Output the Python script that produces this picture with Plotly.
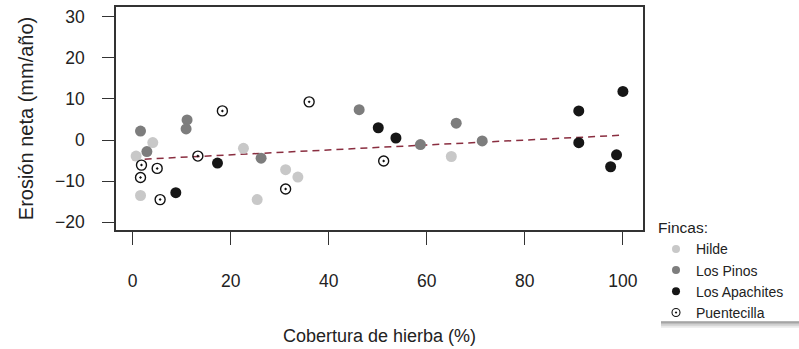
import plotly.graph_objects as go

# Net erosion vs. grass cover, by farm
hilde_x = [0.7, 4.1, 1.6, 22.6, 25.4, 31.2, 33.7, 65.0]
hilde_y = [-3.9, -0.6, -13.5, -2.0, -14.5, -7.2, -9.0, -4.0]

pinos_x = [1.6, 2.9, 11.1, 10.9, 26.2, 46.2, 58.7, 66.0, 71.3]
pinos_y = [2.2, -2.8, 4.9, 2.7, -4.4, 7.4, -1.1, 4.1, -0.2]

apachites_x = [8.8, 17.3, 50.1, 53.7, 91.0, 91.0, 100.0, 98.7, 97.5]
apachites_y = [-12.8, -5.6, 3.0, 0.5, 7.1, -0.65, 11.85, -3.6, -6.5]

puente_x = [1.8, 1.6, 5.0, 5.6, 13.3, 18.3, 31.2, 36.0, 51.2]
puente_y = [-6.1, -9.1, -6.9, -14.5, -3.9, 7.1, -11.9, 9.3, -5.1]

# Fitted linear trend (endpoints)
trend_x = [0, 100]
trend_y = [-4.8, 1.2]

x_ticks = [0, 20, 40, 60, 80, 100]
y_ticks = [-20, -10, 0, 10, 20, 30]

FONT = "Liberation Sans, Arial, sans-serif"
TXT = "#222222"
AX = "#333333"

# plot area in pixels (left, right, top, bottom)
L, R, T, B = 116, 643, 5, 230
W, H = 799, 349


def px_x(v):
    return (v - L) / (R - L)


def px_y(v):
    return (B - v) / (B - T)


series = [
    ("Hilde", hilde_x, hilde_y, dict(symbol="circle", color="#c8c8c8", size=11, line=dict(width=0))),
    ("Los Pinos", pinos_x, pinos_y, dict(symbol="circle", color="#7d7d7d", size=11, line=dict(width=0))),
    ("Los Apachites", apachites_x, apachites_y, dict(symbol="circle", color="#161616", size=11, line=dict(width=0))),
    ("Puentecilla", puente_x, puente_y, dict(symbol="circle-open-dot", color="#111111", size=10, line=dict(width=1.4))),
]

fig = go.Figure()

fig.add_trace(go.Scatter(
    x=trend_x, y=trend_y, mode="lines", showlegend=False, hoverinfo="skip",
    line=dict(color="#8a2e40", width=1.5, dash="7px,5px"),
))

for name, xs, ys, mk in series:
    fig.add_trace(go.Scatter(x=xs, y=ys, mode="markers", marker=mk, name=name, showlegend=False))

# Legend entries with smaller symbols
for name, xs, ys, mk in series:
    small = dict(mk)
    small["size"] = 8
    if mk["symbol"] != "circle":
        small["line"] = dict(width=1.1)
    fig.add_trace(go.Scatter(x=[None], y=[None], mode="markers", marker=small, name=name, showlegend=True))

# Legend panel: soft drop shadow plus white box
for op, dy in [(0.12, 7), (0.2, 5), (0.3, 3), (0.45, 1.5)]:
    fig.add_shape(type="rect", xref="paper", yref="paper",
                  x0=px_x(661), x1=px_x(W + 40),
                  y0=px_y(322 + dy), y1=px_y(318),
                  fillcolor="#7a7a7a", opacity=op, line=dict(width=0))
fig.add_shape(type="rect", xref="paper", yref="paper",
              x0=px_x(656), x1=px_x(W + 40), y0=px_y(322), y1=px_y(212),
              fillcolor="white", line=dict(width=0))

fig.update_layout(
    width=W, height=H,
    margin=dict(l=L, r=W - R, t=T, b=H - B),
    paper_bgcolor="white", plot_bgcolor="white",
    font=dict(family=FONT, size=17.5, color=TXT),
    showlegend=True,
    legend=dict(
        x=px_x(656), xanchor="left",
        y=px_y(213), yanchor="top",
        bgcolor="rgba(0,0,0,0)", borderwidth=0,
        title=dict(text="Fincas:", font=dict(size=15.5, color=TXT)),
        font=dict(size=14, color=TXT),
        itemwidth=30, tracegroupgap=0,
    ),
    xaxis=dict(
        range=[-3.4, 104.1], tickvals=x_ticks, ticks="outside", ticklen=13, tickwidth=1.3,
        tickcolor=AX, showline=True, linecolor=AX, linewidth=1.6, mirror=True,
        showgrid=False, zeroline=False, ticklabelstandoff=21,
        title=dict(text="Cobertura de hierba (%)", standoff=40, font=dict(size=18)),
    ),
    yaxis=dict(
        range=[-21.9, 32.4], tickvals=y_ticks, ticks="outside", ticklen=12, tickwidth=1.3,
        tickcolor=AX, showline=True, linecolor=AX, linewidth=1.6, mirror=True,
        showgrid=False, zeroline=False, ticklabelstandoff=14,
        title=dict(text="Erosión neta (mm/año)", standoff=16, font=dict(size=20)),
    ),
)

fig.write_html("out.html")
